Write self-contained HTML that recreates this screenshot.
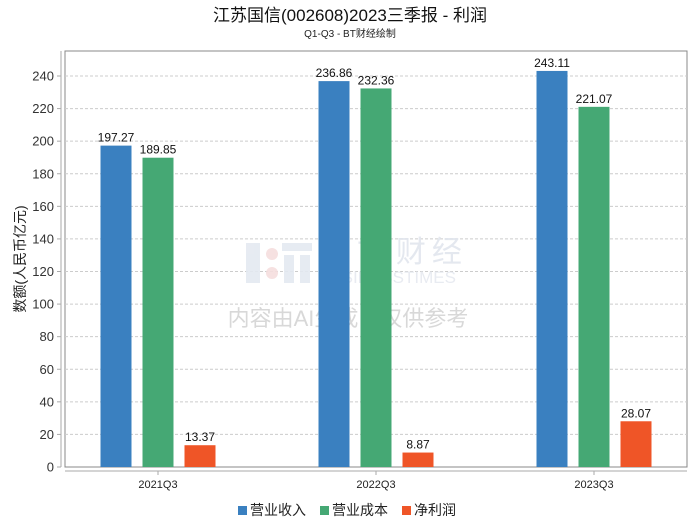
<!DOCTYPE html>
<html><head><meta charset="utf-8"><style>
html,body{margin:0;padding:0;background:#fff;}
svg text{font-family:"Liberation Sans","Noto Sans CJK SC",sans-serif;}
</style></head><body>
<svg id="chart" width="700" height="524" viewBox="0 0 700 524" xmlns="http://www.w3.org/2000/svg">
<text x="350" y="21" text-anchor="middle" font-size="17" fill="#111">江苏国信(002608)2023三季报 - 利润</text>
<text x="350" y="37" text-anchor="middle" font-size="10" fill="#222">Q1-Q3 - BT财经绘制</text>
<rect x="65" y="51" width="622" height="416" fill="none" stroke="#888" stroke-width="1"/>
<g id="grid"></g>
<g id="watermark" opacity="0.9">
<rect x="246" y="243" width="14" height="40" fill="#e4e9f1"/>
<circle cx="272" cy="254" r="6" fill="#f6dede"/><circle cx="272" cy="273" r="6" fill="#f6dede"/>
<rect x="282" y="243" width="30" height="8" fill="#e4e9f1"/><rect x="284" y="255" width="10" height="28" fill="#e4e9f1"/><rect x="300" y="255" width="10" height="28" fill="#e4e9f1"/>
<text x="318" y="262" font-family="Liberation Serif,serif" font-size="30" fill="#e2e6ee" letter-spacing="6">B T 财经</text>
<text x="318" y="283" font-family="Liberation Serif,serif" font-size="17" fill="#e6e9f0">BUSINESSTIMES</text>
<text x="348" y="326" text-anchor="middle" font-size="22" fill="#d4d4d4">内容由AI生成，仅供参考</text>
</g>
<g id="bars"></g>
<line x1="61" y1="51" x2="61" y2="467" stroke="#aaa"/>
<line x1="65" y1="471" x2="687" y2="471" stroke="#aaa"/>
<g id="yticks"></g>
<g id="xticks"></g>
<text transform="translate(25,259) rotate(-90)" text-anchor="middle" font-size="14" fill="#222">数额(人民币亿元)</text>
<g>
<g><rect x="238" y="506" width="9" height="9" fill="#3a80c0"/><text x="250" y="515" font-size="14" fill="#222">营业收入</text></g>
<g><rect x="320" y="506" width="9" height="9" fill="#45a874"/><text x="332" y="515" font-size="14" fill="#222">营业成本</text></g>
<g><rect x="402" y="506" width="9" height="9" fill="#ef5527"/><text x="414" y="515" font-size="14" fill="#222">净利润</text></g>
</g>
</svg>
<script>
const categories = ["2021Q3","2022Q3","2023Q3"];
const revenue = [197.27, 236.86, 243.11];
const cost = [189.85, 232.36, 221.07];
const profit = [13.37, 8.87, 28.07];
const yTicks = [0,20,40,60,80,100,120,140,160,180,200,220,240];

const NS="http://www.w3.org/2000/svg";
const y0=467, pxPerUnit=391/240;
function yScale(v){return y0 - v*pxPerUnit;}
function xCenter(i){return 158 + i*218;}
const series=[{vals:revenue,color:"#3a80c0",name:"revenue"},{vals:cost,color:"#45a874",name:"cost"},{vals:profit,color:"#ef5527",name:"profit"}];
const bw=31;
function mk(tag,attrs,parent){const e=document.createElementNS(NS,tag);for(const k in attrs)e.setAttribute(k,attrs[k]);parent.appendChild(e);return e;}
const grid=document.getElementById('grid'), yt=document.getElementById('yticks'), xt=document.getElementById('xticks'), bars=document.getElementById('bars');
yTicks.forEach(t=>{
  const y=yScale(t);
  if(t>0){const g=mk('line',{x1:65,x2:687,y1:y,y2:y,stroke:"#ccc","stroke-dasharray":"3,2"},grid);
  
  }
  const tk=mk('line',{x1:57,x2:61,y1:y,y2:y,stroke:"#aaa"},yt);
  
  
  const tx=mk('text',{x:54,y:y+4.5,"text-anchor":"end","font-size":"13",fill:"#333"},yt);
  tx.textContent=t;
  
  
});
categories.forEach((c,i)=>{
  const cx=xCenter(i);
  const tk=mk('line',{x1:cx,x2:cx,y1:471,y2:475,stroke:"#aaa"},xt);
  
  
  const tx=mk('text',{x:cx,y:488,"text-anchor":"middle","font-size":"11",fill:"#222"},xt);
  tx.textContent=c;
  
  
  series.forEach((s,j)=>{
    const v=s.vals[i];
    const x=cx+(j-1)*42-bw/2, y=yScale(v);
    const r=mk('rect',{x:x,y:y,width:bw,height:y0-y,fill:s.color},bars);
    
    
    const l=mk('text',{x:x+bw/2,y:y-4,"text-anchor":"middle","font-size":"12",fill:"#111"},bars);
    l.textContent=v.toFixed(2);
    
    
  });
});
</script>
</body></html>
